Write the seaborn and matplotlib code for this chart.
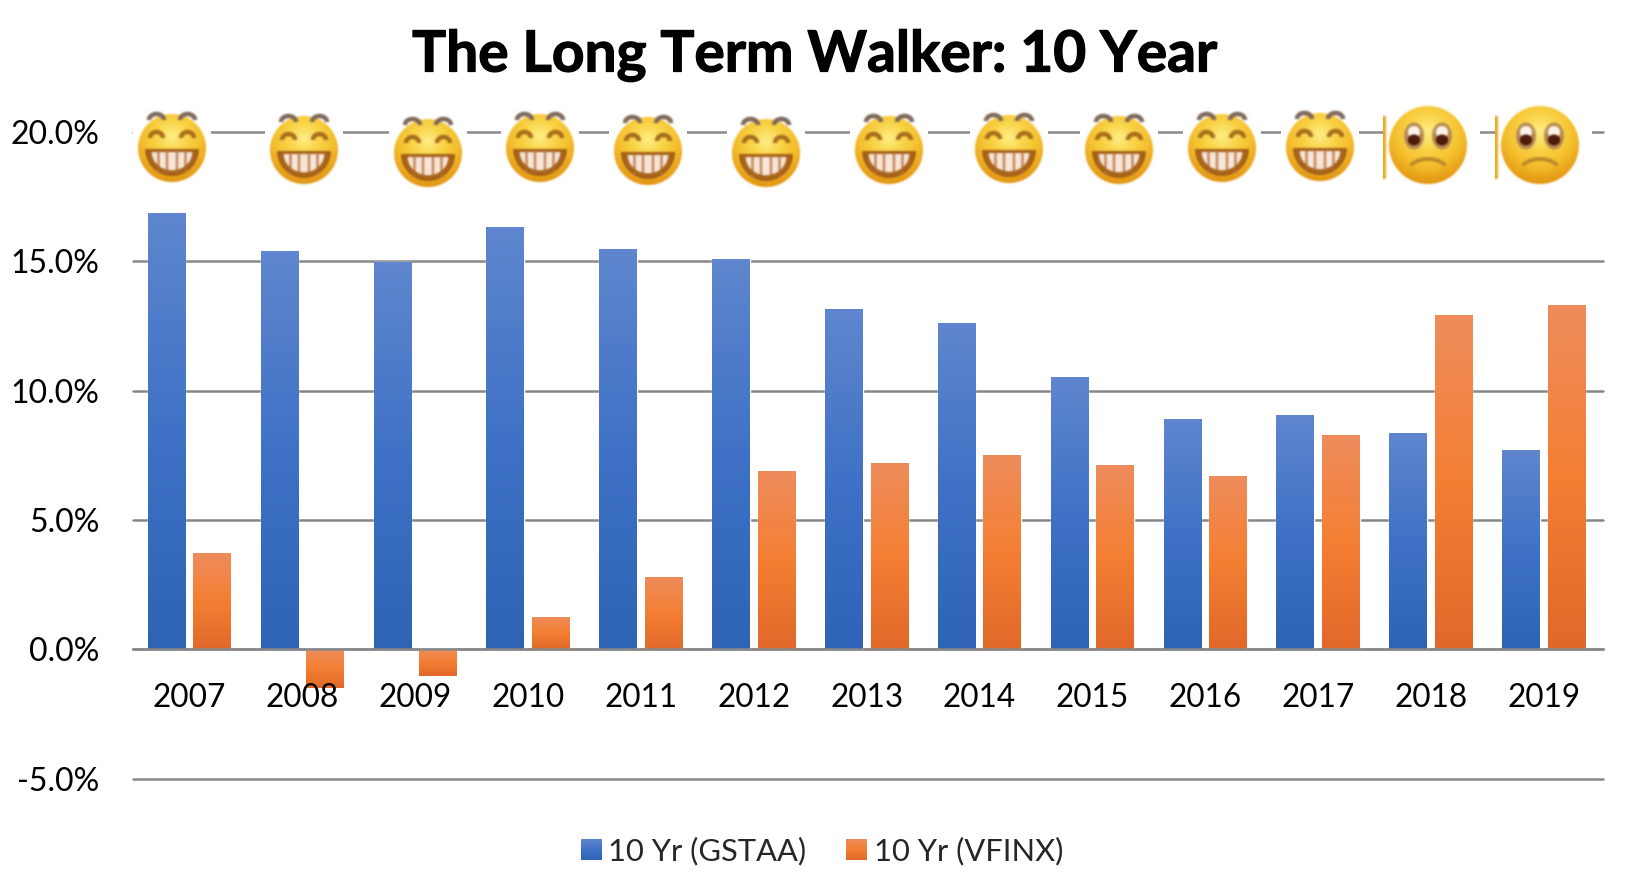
import numpy as np
import pandas as pd
import seaborn as sns
import matplotlib
matplotlib.use("Agg")
import matplotlib.pyplot as plt
import matplotlib.patheffects as pe
from matplotlib.figure import Figure
from matplotlib.backends.backend_agg import FigureCanvasAgg
from matplotlib.colors import LinearSegmentedColormap
from matplotlib.patches import Circle, Rectangle, Arc, Ellipse, Wedge

years = ["2007", "2008", "2009", "2010", "2011", "2012", "2013",
         "2014", "2015", "2016", "2017", "2018", "2019"]
gstaa = [16.87, 15.41, 14.97, 16.34, 15.50, 15.10, 13.15, 12.62, 10.52, 8.90, 9.06, 8.37, 7.69]
vfinx = [3.72, -1.50, -1.05, 1.25, 2.80, 6.88, 7.20, 7.52, 7.12, 6.72, 8.29, 12.94, 13.30]
series_names = ["10 Yr (GSTAA)", "10 Yr (VFINX)"]
y_ticks = [-5, 0, 5, 10, 15, 20]
y_labels = ["-5.0%", "0.0%", "5.0%", "10.0%", "15.0%", "20.0%"]
title_text = "The Long Term Walker: 10 Year"

# Emoji placement in figure pixels: decoration above the plot
happy_x = [172, 304, 428, 540, 648, 766, 889, 1009, 1119, 1222, 1320]
happy_y = [148, 150, 153, 148, 151, 153, 150, 149, 150, 148, 147]
sad_x = [1428, 1540]
sad_y = [145, 145]

W, H = 1640, 890
sns.set_theme(style="white")
plt.rcParams["font.family"] = ["Lato", "DejaVu Sans"]

df = pd.DataFrame({
    "year": years * 2,
    "value": gstaa + vfinx,
    "series": [series_names[0]] * len(years) + [series_names[1]] * len(years),
})

fig = plt.figure(figsize=(W / 100, H / 100), dpi=100, facecolor="white")
L, R, T, B = 133, 1603, 132.2, 778.6
ax = fig.add_axes([L / W, 1 - B / H, (R - L) / W, (B - T) / H])
sns.barplot(data=df, x="year", y="value", hue="series", ax=ax, width=0.808, gap=0.175,
            palette=["#4472C4", "#ED7D31"], saturation=1, zorder=3, errorbar=None)

GRID = "#888888"
X_LIM = (-0.5, 12.525)
ax.set_xlim(*X_LIM)
ax.set_ylim(-5, 20)
ax.set_yticks(y_ticks, y_labels)
ax.set_xlabel("")
ax.set_ylabel("")
ax.yaxis.grid(True, color=GRID, lw=1.8, zorder=1)
ax.xaxis.grid(False)
ax.set_axisbelow(True)
ax.xaxis.set_zorder(6)
for tick in ax.yaxis.get_major_ticks():
    tick.gridline.set_clip_on(False)
for s in ["top", "left", "right"]:
    ax.spines[s].set_visible(False)
ax.spines["bottom"].set_position(("data", 0))
ax.spines["bottom"].set_color(GRID)
ax.spines["bottom"].set_linewidth(1.8)
ax.spines["bottom"].set_zorder(4)
ax.tick_params(axis="x", length=0, pad=24, labelsize=22.7, labelcolor="black")
ax.tick_params(axis="y", length=0, pad=24, labelsize=23, labelcolor="black")

cm_blue = LinearSegmentedColormap.from_list("b", ["#5F86CE", "#3F72C6", "#2E63B5"])
cm_orange = LinearSegmentedColormap.from_list("o", ["#EE8C5C", "#F47F33", "#E1682A"])
grad = np.linspace(0, 1, 128).reshape(-1, 1)
for cont, cm in zip(ax.containers, [cm_blue, cm_orange]):
    for p in cont.patches:
        x0, y0 = p.get_x(), p.get_y()
        x1, y1 = x0 + p.get_width(), y0 + p.get_height()
        top, bot = max(y0, y1), min(y0, y1)
        im = ax.imshow(grad, cmap=cm, aspect="auto", extent=(x0, x1, bot, top),
                       origin="upper", zorder=3, interpolation="bilinear")
        im.set_clip_path(p)
ax.set_xlim(*X_LIM)
ax.set_ylim(-5, 20)

sns.move_legend(ax, "center", bbox_to_anchor=(822 / W, 1 - 851 / H),
                bbox_transform=fig.transFigure, ncol=2, frameon=False, title=None,
                fontsize=22.2, handlelength=0.65, handleheight=0.65, handletextpad=0.24,
                columnspacing=1.3, borderpad=0, borderaxespad=0)

fig.text(814 / W, 1 - 71.5 / H, title_text, ha="center", va="baseline",
         fontsize=40.9, fontweight="bold", color="black",
         path_effects=[pe.withStroke(linewidth=0.9, foreground="black")])


def gauss_blur(a, sigma):
    r = int(3 * sigma)
    k = np.exp(-0.5 * (np.arange(-r, r + 1) / sigma) ** 2)
    k /= k.sum()
    pad = np.pad(a, ((r, r), (r, r), (0, 0)), mode="edge")
    for axis in (0, 1):
        pad = np.apply_along_axis(lambda v: np.convolve(v, k, mode="same"), axis, pad)
    return pad[r:-r, r:-r]


def emoji_sprite(kind, x0, x1, y0, y1, radius):
    s = 4
    w, h = x1 - x0, y1 - y0
    f = Figure(figsize=(w * s / 100, h * s / 100), dpi=100, facecolor="white")
    FigureCanvasAgg(f)
    a = f.add_axes([0, 0, 1, 1])
    a.axis("off")
    yy, xx = np.mgrid[-radius:radius:300j, -radius:radius:300j]
    d = np.hypot(xx, yy + radius * 0.35) / (radius * 1.35)
    cm = LinearSegmentedColormap.from_list(
        "face", ["#FFEE88", "#FAD548", "#F4BE2C", "#E2930F"])
    im = a.imshow(d, cmap=cm, vmin=0, vmax=1,
                  extent=(-radius, radius, radius, -radius), aspect="auto", zorder=1)
    im.set_clip_path(Circle((0, 0), radius, transform=a.transData))
    a.set_xlim(x0, x1)
    a.set_ylim(y1, y0)
    if kind == "happy":
        for sx in (-1, 1):
            cx = sx * 15.5
            a.add_patch(Arc((cx, -28), 15, 12, theta1=180, theta2=360, lw=13,
                            color="#7f6a5c", zorder=2))
            a.add_patch(Arc((cx, -10), 13, 12, theta1=180, theta2=360, lw=13,
                            color="#a96f1c", zorder=3))
        a.add_patch(Wedge((0, 1), 27, 0, 180, fc="#a55f18", ec="none", zorder=3))
        a.add_patch(Wedge((0, 4), 21.5, 0, 180, fc="#f8e6d8", ec="none", zorder=4))
        for tx in (-13.5, -5, 5, 13.5):
            a.add_patch(Rectangle((tx - 1.2, 3), 2.4, 22, fc="#b87242", ec="none",
                                  alpha=0.8, zorder=5))
        a.add_patch(Arc((0, 4), 44, 40, theta1=0, theta2=180, lw=10,
                        color="#a9661b", zorder=6))
    else:
        for sx in (-1, 1):
            cx = sx * 14
            a.add_patch(Ellipse((cx, -9), 20, 27, fc="#b98c55", ec="none", zorder=2))
            a.add_patch(Ellipse((cx, -13), 12, 12, fc="#fbf3ea", ec="none", zorder=3))
            a.add_patch(Ellipse((cx, -5), 12.5, 11, fc="#4e1c0a", ec="none", zorder=4))
        a.add_patch(Arc((0, 27), 40, 26, theta1=200, theta2=340, lw=11,
                        color="#bd8a26", zorder=3))
        a.add_patch(Rectangle((x0, -29), 3.0, 63, fc="#eca91c", ec="none", zorder=5))
    f.canvas.draw()
    arr = np.asarray(f.canvas.buffer_rgba())[..., :3].astype(float) / 255
    return gauss_blur(arr, 0.9 * s)


overlay = fig.add_axes([0, 0, 1, 1], zorder=10)
overlay.set_xlim(0, W)
overlay.set_ylim(H, 0)
overlay.axis("off")
overlay.patch.set_alpha(0)

happy = emoji_sprite("happy", -39, 39, -41, 41, 34)
sad = emoji_sprite("sad", -45, 52, -41, 41, 39)
for cx, cy in zip(happy_x, happy_y):
    overlay.imshow(happy, extent=(cx - 39, cx + 39, cy + 41, cy - 41), aspect="auto",
                   interpolation="antialiased", zorder=2)
for cx, cy in zip(sad_x, sad_y):
    overlay.imshow(sad, extent=(cx - 45, cx + 52, cy + 41, cy - 41), aspect="auto",
                   interpolation="antialiased", zorder=2)

fig.canvas.draw()
leg = ax.get_legend()
for patch, cm in zip(leg.get_patches(), [cm_blue, cm_orange]):
    bb = patch.get_window_extent()
    overlay.imshow(grad, cmap=cm, aspect="auto", origin="upper", zorder=3,
                   extent=(bb.x0, bb.x1, H - bb.y0, H - bb.y1))
overlay.set_xlim(0, W)
overlay.set_ylim(H, 0)

fig.savefig("out.png", dpi=100, facecolor="white")
